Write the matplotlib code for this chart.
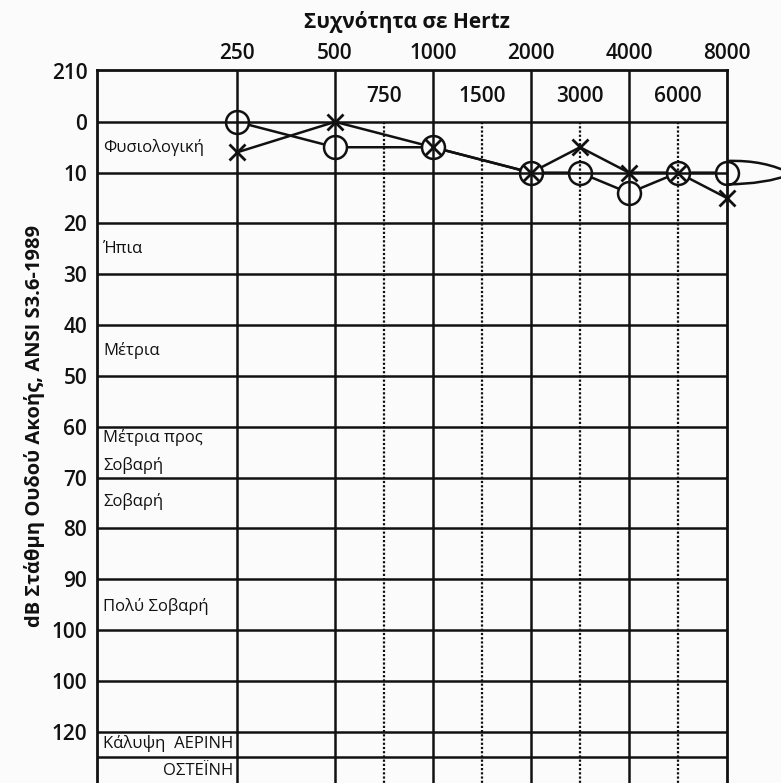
import numpy as np
import matplotlib
matplotlib.use("Agg")
import matplotlib.pyplot as plt
from matplotlib.path import Path
from matplotlib.patches import PathPatch
from matplotlib.transforms import IdentityTransform
from matplotlib.ticker import NullLocator

plt.rcParams['font.family'] = ['Open Sans', 'DejaVu Sans']

# hearing thresholds, dB HL
freqs = [250, 500, 1000, 2000, 3000, 4000, 6000, 8000]
right_ear = [0, 5, 5, 10, 10, 14, 10, 10]    # O
left_ear = [6, 0, 5, 10, 5, 10, 10, 15]      # X

octave_freqs = [250, 500, 1000, 2000, 4000, 8000]
mid_freqs = [750, 1500, 3000, 6000]

db_levels = [-10, 0, 10, 20, 30, 40, 50, 60, 70, 80, 90, 100, 110, 120]
db_labels = ['210', '0', '10', '20', '30', '40', '50', '60', '70', '80',
             '90', '100', '100', '120']
grid_levels = [0, 10, 20, 30, 40, 50, 60, 70, 80, 90, 100, 110, 120, 125]

degree_names = ['Φυσιολογική', 'Ήπια', 'Μέτρια', 'Μέτρια προς', 'Σοβαρή',
                'Σοβαρή', 'Πολύ Σοβαρή', 'Κάλυψη  ΑΕΡΙΝΗ']
degree_levels = [5, 25, 45, 62.2, 67.7, 74.8, 95.3, 122.4]

BG = '#fbfbfb'
INK = '#111111'


def freq_to_col(f):
    # octaves are equally spaced, the in-between frequencies sit half way
    f = np.asarray(f, dtype=float)
    k = np.floor(np.log2(np.clip(f, 1e-6, None) / 250.0))
    return k + f / (250.0 * 2 ** k) - 1


def col_to_freq(c):
    c = np.asarray(c, dtype=float)
    k = np.floor(c)
    return 250.0 * 2 ** k * (1 + c - k)


fig = plt.figure(figsize=(7.81, 7.83), dpi=100, facecolor=BG)
ax = fig.add_axes([97 / 781, 0, 630 / 781, 713 / 783], facecolor=BG)
ax.set_xscale('function', functions=(freq_to_col, col_to_freq))
ax.set_xlim(col_to_freq(-1.43), 8000)
ax.set_ylim(130.1, -10.2)

# grid
for lv in grid_levels:
    ax.axhline(lv, color=INK, lw=1.8, zorder=4)
for f in octave_freqs[:-1]:
    ax.axvline(f, color=INK, lw=1.8, zorder=4)
ax.vlines(mid_freqs, 0, 130.1, color=INK, lw=1.6,
          linestyles=[(0, (1, 0.9))], zorder=4)

for side in ['left', 'top', 'right']:
    ax.spines[side].set_linewidth(2.0)
    ax.spines[side].set_color(INK)
    ax.spines[side].set_zorder(4.5)
ax.spines['bottom'].set_visible(False)

# frequency labels
ax.xaxis.tick_top()
ax.set_xticks(octave_freqs, labels=[str(f) for f in octave_freqs])
ax.xaxis.set_minor_locator(NullLocator())
ax.tick_params(axis='x', length=0, pad=4, labelsize=15, colors=INK)
for f in mid_freqs:
    ax.text(f, -5, str(f), ha='center', va='center', fontsize=15,
            fontweight='semibold', color=INK)

ax.set_yticks(db_levels, labels=db_labels)
ax.yaxis.set_minor_locator(NullLocator())
ax.tick_params(axis='y', length=0, pad=7, labelsize=15, colors=INK)
for lab in ax.get_xticklabels() + ax.get_yticklabels():
    lab.set_fontweight('semibold')

# degree of hearing loss
ytr = ax.get_yaxis_transform()
for name, lv in zip(degree_names, degree_levels):
    ax.text(0.01, lv, name, transform=ytr, ha='left', va='center',
            fontsize=12, fontweight='medium', color=INK)
ax.text(0.217, 127.8, 'ΟΣΤΕΪΝΗ', transform=ytr, ha='right', va='center',
        fontsize=12, fontweight='medium', color=INK)

# audiogram curves
ax.plot(freqs, right_ear, color=INK, lw=1.8, zorder=2, clip_on=False)
ax.plot(freqs, left_ear, color=INK, lw=1.8, zorder=2, clip_on=False)
ax.plot(freqs, right_ear, ls='none', marker='o', ms=16.5, mfc=BG, mec=INK,
        mew=1.8, zorder=3, clip_on=False)
ax.plot(freqs, left_ear, ls='none', marker='x', ms=11.5, mec=INK, mew=2.0,
        zorder=5, clip_on=False)

# pointer shape leaving the last circle
x0, y0 = ax.transData.transform((freqs[-1], right_ear[-1]))
verts = [(0, 11.7), (38, 13), (65, -1.5), (38, -11.5), (0, -11.7)]
verts = [(x0 + dx, y0 + dy) for dx, dy in verts]
codes = [Path.MOVETO, Path.CURVE3, Path.CURVE3, Path.CURVE3, Path.CURVE3]
ax.add_patch(PathPatch(Path(verts, codes), fill=False, ec=INK, lw=1.8,
                       transform=IdentityTransform(), clip_on=False, zorder=5))

fig.text(0.521, 1 - 22 / 783, 'Συχνότητα σε Hertz', ha='center', va='center',
         fontsize=15, fontweight='bold', color=INK)
fig.text(35 / 781, 1 - 426 / 783, 'dB Στάθμη Ουδού Ακοής, ANSI S3.6-1989',
         rotation=90, ha='center', va='center', fontsize=14.5,
         fontweight='bold', color=INK)

fig.savefig('out.png', dpi=100, facecolor=BG)
